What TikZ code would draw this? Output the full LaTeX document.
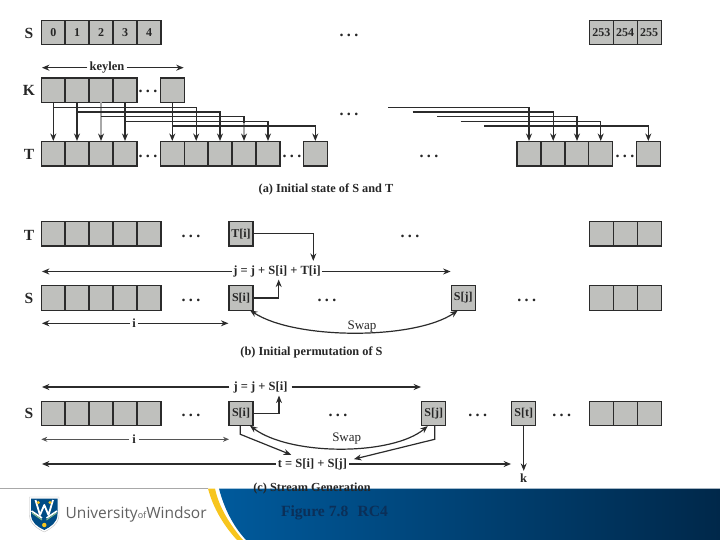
\documentclass[tikz,border=0pt]{standalone}
\usepackage{fontspec}
\setmainfont{Liberation Serif}
\newfontfamily\logofont{Open Sans}
\usetikzlibrary{arrows.meta}
\definecolor{cellgray}{HTML}{BFC0BD}
\definecolor{edgedark}{HTML}{2B2B2B}
\definecolor{soft}{HTML}{A8A8A8}
\definecolor{bannerL}{HTML}{005A9C}
\definecolor{bannerR}{HTML}{00284A}
\definecolor{goldy}{HTML}{F7C51E}
\definecolor{navytext}{HTML}{0B2F58}
\tikzset{
  cellb/.style={draw=edgedark,fill=cellgray,line width=1.2pt,minimum width=24pt,minimum height=24.4pt,inner sep=0pt,outer sep=0pt,font=\fontsize{12}{13}\selectfont\bfseries,text=black!85},
  arr/.style={draw=edgedark,line width=1.2pt,shorten >=.6pt,-{Stealth[length=7.5pt,width=6pt]}},
  wire/.style={draw=edgedark,line width=1.2pt},
  softarr/.style={draw=soft,line width=1.2pt},
  thinln/.style={draw=edgedark!80,line width=.7pt,-{Stealth[length=6pt,width=5pt]}},
  rowname/.style={font=\fontsize{15.5}{17}\selectfont\bfseries,text=black!85,inner sep=0pt},
  dotsl/.style={font=\fontsize{16}{16}\selectfont\bfseries,inner sep=0pt,text=black!85},
  eqn/.style={font=\fontsize{12.5}{14}\selectfont\bfseries,text=black!85,inner sep=2pt},
  swapl/.style={font=\fontsize{13}{14}\selectfont,text=black!85,inner sep=2pt},
  captn/.style={font=\fontsize{12.3}{14}\selectfont\bfseries,text=black!85,inner sep=0pt},
  both/.style={{Stealth[length=7.5pt,width=6pt]}-{Stealth[length=7.5pt,width=6pt]}},
}
\newcommand{\ellips}{.\hspace{3.4pt}.\hspace{3.4pt}.}
\begin{document}
\begin{tikzpicture}[x=1pt,y=-1pt]
\useasboundingbox (0,0) rectangle (720,540);
% banner
\draw[soft,line width=.8pt] (0,488.3) -- (208,488.3);
\path[fill=goldy] (208,488.5) .. controls (213,508) and (224,526) .. (237,540) -- (243,540) .. controls (231,526) and (219,508) .. (215,488.5) -- cycle;
\shade[left color=bannerL,right color=bannerR,shading angle=90] (219,488.5) .. controls (224,508) and (233,526) .. (246,540) -- (720,540) -- (720,488.5) -- cycle;
% logo
\path[fill=white,draw=black!25,line width=.4pt] (29.5,497) -- (59,497) -- (59,515) .. controls (59,524) and (50,529) .. (44.3,532) .. controls (38,529) and (29.5,524) .. (29.5,515) -- cycle;
\path[fill=bannerL!85!black] (31,498.5) -- (57.5,498.5) -- (57.5,514) .. controls (57.5,523) and (50,527) .. (44.3,530) .. controls (38,527) and (31,523) .. (31,514) -- cycle;
\draw[white,line width=1.8pt,line join=round] (35.5,500) -- (40,515) -- (44.3,505) -- (48.5,515) -- (53,500);
\draw[white,line width=1.6pt] (31.5,511) -- (42,518) (57,511) -- (46.5,518);
\draw[green!30!gray!70,line width=.9pt] (32,513) -- (42,520) (56.5,513) -- (46.5,520);
\path[fill=goldy] (38.3,502.5) circle (1.7) (50,502.5) circle (1.7) (44.3,525) circle (2.2);
\node[inner sep=0pt,anchor=west,text=black!62,font=\logofont\fontsize{15.5}{17}\selectfont] (uw) at (65.5,514) {University{\fontsize{9}{9}\selectfont of}Windsor};
% (a)
\node[rowname] (la1) at (29,33) {S};
\node[rowname] (la2) at (29,90) {K};
\node[rowname] (la3) at (29,154) {T};
\foreach \n/\x/\t in {s0/53.3/0,s1/77/1,s2/101/2,s3/125/3,s4/149/4,s5/601.3/253,s6/625.2/254,s7/649.2/255}
  \node[cellb] (\n) at (\x,32.4) {\t};
\foreach \n/\x in {k0/53.3,k1/77,k2/101,k3/125,k4/172.3}
  \node[cellb] (\n) at (\x,90.2) {};
\foreach \n/\x in {t0/53.3,t1/77,t2/101,t3/125,t4/172.3,t5/196.2,t6/220,t7/244,t8/268,t9/315.3,t10/529,t11/553.2,t12/577,t13/600.7,t14/648.3}
  \node[cellb] (\n) at (\x,153.8) {};
\node[eqn] (kl) at (107,67.7) {keylen};
\draw[arr] (kl.west) -- (kl.west -| k0.west);
\draw[arr] (kl.east) -- (kl.east -| k4.east);
\node[dotsl] (d1) at (349,35) {\ellips};
\node[dotsl] (d2) at (349,114) {\ellips};
\node[dotsl] (d3) at (429,156) {\ellips};
\node[dotsl] (d4) at (148,91.5) {\ellips};
\node[dotsl] (d5) at (148,156) {\ellips};
\node[dotsl] (d6) at (292,156) {\ellips};
\node[dotsl] (d7) at (625,156) {\ellips};
\coordinate (h1) at (0,107.3);
\coordinate (h2) at (0,112);
\coordinate (h3) at (0,116.7);
\coordinate (h4) at (0,121.7);
\coordinate (h5) at (0,126);
\draw[arr] (k0.south) -- (t0.north);
\draw[arr] (k1.south) -- (t1.north);
\draw[arr] (k3.south) -- (t3.north);
\draw[arr] (k4.south) -- (t4.north);
\draw[softarr] (k2.south) -- ([yshift=5pt]t2.north);
\draw[arr,line width=0pt,shorten <=4pt] ([yshift=8pt]t2.north) -- (t2.north);
\draw[arr] (k0.south |- h1) -| (t5.north);
\draw[arr] (k1.south |- h2) -| (t6.north);
\draw[wire] (k2.south |- h3) -| ([yshift=19pt]t7.north);
\draw[softarr] ([yshift=19pt]t7.north) -- ([yshift=5pt]t7.north);
\draw[arr,line width=0pt,shorten <=4pt] ([yshift=8pt]t7.north) -- (t7.north);
\draw[arr] (k3.south |- h4) -| (t8.north);
\draw[arr] (k4.south |- h5) -| (t9.north);
\coordinate (r1) at (388,107.3);
\coordinate (r2) at (412.7,112);
\coordinate (r3) at (437,116.7);
\coordinate (r4) at (460.7,121.7);
\coordinate (r5) at (484.3,126);
\draw[arr] (r1) -| (t10.north);
\draw[arr] (r2) -| (t11.north);
\draw[arr] (r3) -| (t12.north);
\draw[arr] (r4) -| (t13.north);
\draw[arr] (r5) -| (t14.north);
\node[captn] (ca) at (326,189) {(a) Initial state of S and T};
% (b)
\node[rowname] (lb1) at (29,235) {T};
\node[rowname] (lb2) at (29,298) {S};
\foreach \n/\x in {bt0/53.3,bt1/77,bt2/101,bt3/125,bt4/149,bt5/601.3,bt6/625.2,bt7/649.2}
  \node[cellb] (\n) at (\x,233.8) {};
\foreach \n/\x in {bs0/53.3,bs1/77,bs2/101,bs3/125,bs4/149,bs5/601.3,bs6/625.2,bs7/649.2}
  \node[cellb] (\n) at (\x,298) {};
\node[cellb] (bti) at (241,233.8) {T[i]};
\node[cellb] (bsi) at (241,298) {S[i]};
\node[cellb] (bsj) at (463.2,298) {S[j]};
\node[dotsl] (e1) at (191,236) {\ellips};
\node[dotsl] (e2) at (410,236) {\ellips};
\node[dotsl] (e3) at (191,300) {\ellips};
\node[dotsl] (e4) at (327,300) {\ellips};
\node[dotsl] (e5) at (526.7,300) {\ellips};
\node[eqn,inner sep=1pt] (jb) at (277,271.5) {j = j + S[i] + T[i]};
\coordinate (jbT) at (313.3,261.5);
\coordinate (jbS) at (278.7,279);
\draw[arr] (jb.west) -- (jb.west -| bs0.west);
\draw[arr] (jb.east) -- (jb.east -| bsj.west);
\draw[arr] (bti.east) -| (jbT);
\draw[arr] (bsi.east) -| (jbS);
\node[eqn] (ib) at (134,323.3) {i};
\draw[arr] (ib.west) -- (ib.west -| bs0.west);
\draw[arr] (ib.east) -- (ib.east -| bsi.west);
\draw[arr,both] ([xshift=-3pt]bsi.south east) .. controls (295,340) and (415,340) .. ([xshift=7pt]bsj.south west);
\node[swapl] (sb) at (362,327) {Swap};
\node[captn] (cb) at (311.5,352.5) {(b) Initial permutation of S};
% (c)
\node[rowname] (lc1) at (29,413.5) {S};
\foreach \n/\x in {cs0/53.3,cs1/77,cs2/101,cs3/125,cs4/149,cs5/601.3,cs6/625.2,cs7/649.2}
  \node[cellb] (\n) at (\x,413.5) {};
\node[cellb] (csi) at (241,413.5) {S[i]};
\node[cellb] (csj) at (433.7,413.5) {S[j]};
\node[cellb] (cst) at (523.7,413.5) {S[t]};
\node[dotsl] (f1) at (191,415) {\ellips};
\node[dotsl] (f2) at (338,415) {\ellips};
\node[dotsl] (f3) at (477.7,415) {\ellips};
\node[dotsl] (f4) at (561.7,415) {\ellips};
\node[eqn,inner sep=4pt] (jc) at (260.5,387) {j = j + S[i]};
\coordinate (jcS) at (279,395);
\draw[arr] (jc.west) -- (jc.west -| cs0.west);
\draw[arr] (jc.east) -- (jc.east -| csj.west);
\draw[arr] (csi.east) -| (jcS);
\node[eqn,inner sep=3pt] (ic) at (134,439.3) {i};
\draw[thinln] (ic.west) -- (ic.west -| cs0.west);
\draw[thinln] (ic.east) -- (ic.east -| csi.west);
\node[eqn] (tc) at (312.5,464) {t = S[i] + S[j]};
\draw[arr] (tc.west) -- (tc.west -| cs0.west);
\draw[arr] (tc.east) -- (tc.east -| cst.west);
\draw[arr,both] ([xshift=-3pt]csi.south east) .. controls (290,456) and (392,456) .. ([xshift=6.5pt]csj.south west);
\node[swapl] (sc) at (346.7,439) {Swap};
\coordinate (a1) at (240.3,434.3);
\coordinate (a2) at (291.7,455);
\coordinate (a3) at (434.7,439.3);
\coordinate (a4) at (353.3,459.3);
\draw[arr] (csi.south -| a1) -- (a1) -- (a2);
\draw[arr] (csj.south -| a3) -- (a3) -- (a4);
\node[eqn] (kk) at (523.7,478) {k};
\draw[arr] (cst.south) -- (kk.north);
\node[captn] (cc) at (312,489) {(c) Stream Generation};
\node[inner sep=0pt,text=navytext,font=\fontsize{15.6}{17}\selectfont\bfseries] (fg) at (334.5,512.5) {Figure 7.8\hspace{.6em}RC4};
\end{tikzpicture}
\end{document}
